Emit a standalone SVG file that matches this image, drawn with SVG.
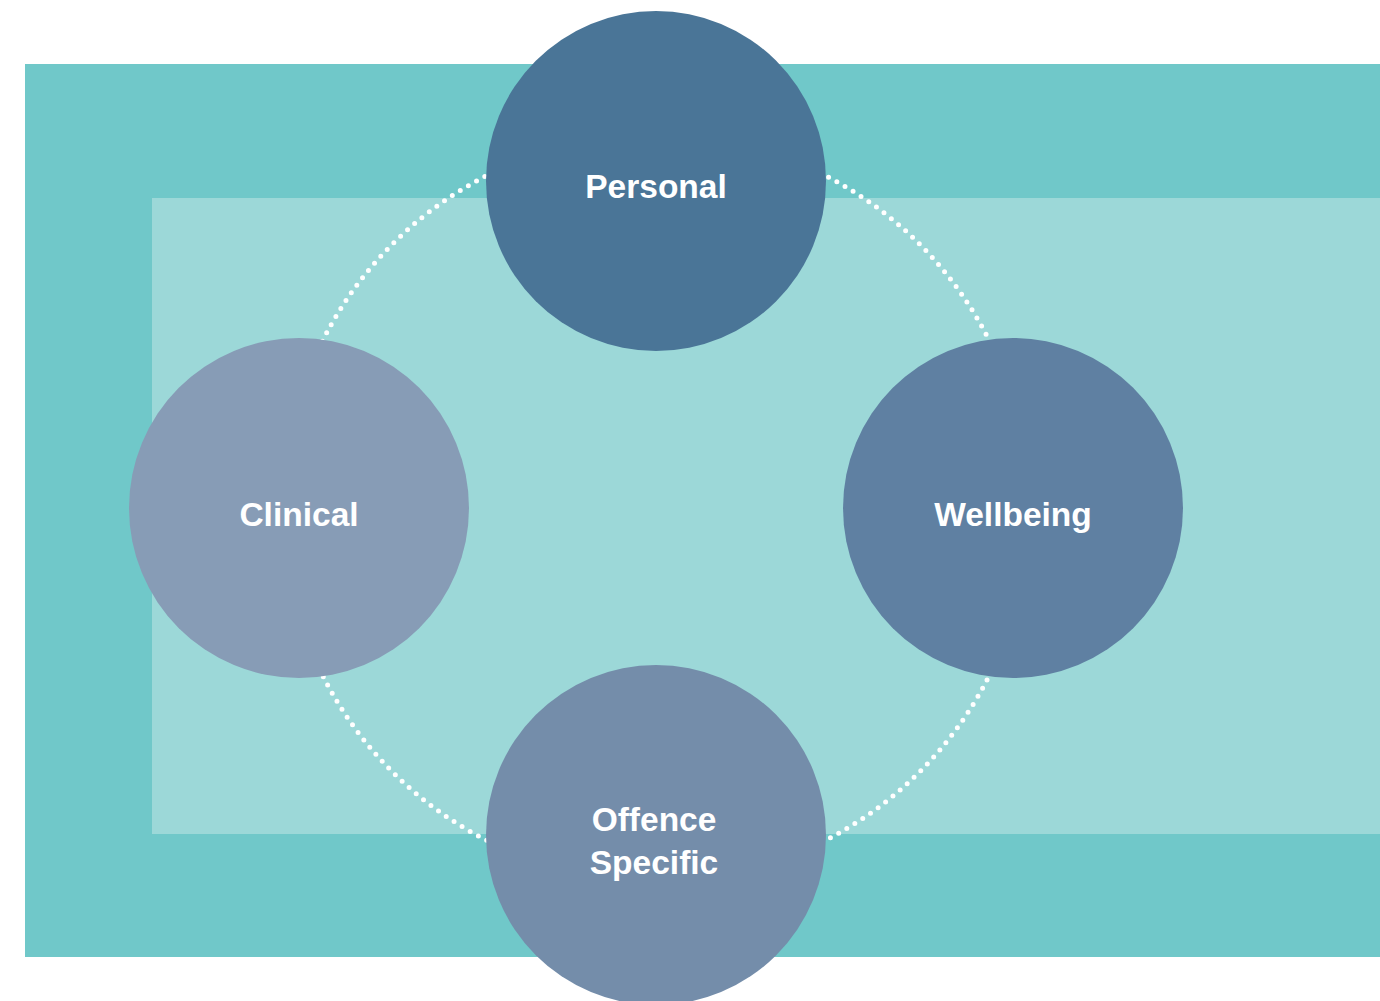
<svg xmlns="http://www.w3.org/2000/svg" width="1380" height="1001" viewBox="0 0 1380 1001">
<style>
.lbl{font-family:"Liberation Sans",Arial,sans-serif;font-weight:bold;font-size:33.5px;fill:#ffffff;text-anchor:middle}
.dots{fill:none;stroke:#ffffff;stroke-width:5;stroke-linecap:round;stroke-dasharray:0 9.4}
</style>
<rect x="0" y="0" width="1380" height="1001" fill="#ffffff"/>
<rect id="outer-band" x="25" y="64" width="1355" height="893" fill="#70C8C9"/>
<rect id="inner-panel" x="152" y="198" width="1228" height="636" fill="#9CD8D8"/>
<g id="connectors">
<circle class="dots" cx="656" cy="508" r="373"/>
</g>
<g id="personal">
<circle cx="656" cy="181" r="170" fill="#4A7597"/>
<text class="lbl" x="656" y="198">Personal</text>
</g>
<g id="clinical">
<circle cx="299" cy="508" r="170" fill="#879CB6"/>
<text class="lbl" x="299" y="526">Clinical</text>
</g>
<g id="wellbeing">
<circle cx="1013" cy="508" r="170" fill="#5F80A2"/>
<text class="lbl" x="1013" y="526">Wellbeing</text>
</g>
<g id="offence-specific">
<circle cx="656" cy="835" r="170" fill="#748DAA"/>
<text class="lbl" x="654" y="831">Offence</text>
<text class="lbl" x="654" y="874">Specific</text>
</g>
</svg>
